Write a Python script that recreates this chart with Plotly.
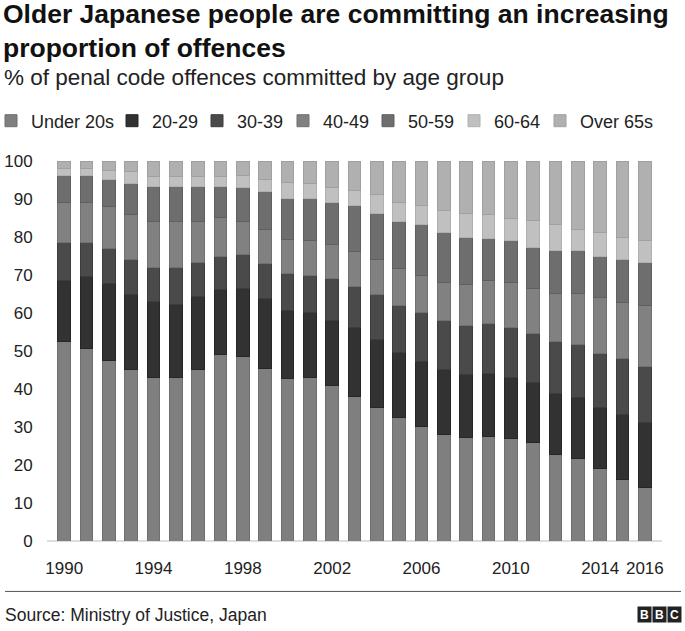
import plotly.graph_objects as go

# Share of penal code offences by age group of offender (%)
years = list(range(1990, 2017))
under_20 = [52.4, 50.6, 47.4, 45.1, 43.1, 43.1, 45.1, 49.2, 48.6, 45.3, 42.7, 43.1, 40.9, 38.1,
            35.1, 32.5, 30.1, 28.1, 27.2, 27.5, 26.9, 25.8, 22.8, 21.7, 19.1, 16.2, 14.1]
age_20_29 = [16.1, 18.9, 20.3, 19.9, 19.8, 19.1, 19.2, 16.9, 17.8, 18.5, 17.9, 17.0, 17.1, 18.1,
             17.9, 17.0, 17.1, 17.0, 16.6, 16.5, 16.2, 15.9, 16.0, 16.1, 16.1, 17.0, 17.0]
age_30_39 = [10.0, 9.0, 9.4, 9.2, 9.2, 9.9, 8.9, 8.9, 8.9, 9.1, 9.7, 9.9, 11.2, 10.9,
             12.0, 12.4, 12.9, 12.9, 12.8, 13.2, 13.2, 12.8, 13.7, 13.8, 14.1, 14.8, 14.9]
age_40_49 = [10.7, 10.7, 10.9, 11.8, 11.9, 11.9, 10.8, 10.1, 8.9, 9.1, 9.1, 9.1, 8.8, 9.1,
             9.2, 9.9, 9.9, 10.1, 11.0, 11.3, 11.8, 12.0, 12.6, 13.5, 14.9, 14.8, 16.1]
age_50_59 = [6.9, 6.9, 7.2, 8.1, 9.2, 9.2, 9.2, 8.1, 8.9, 9.9, 10.8, 11.1, 11.0, 12.0,
             12.0, 12.2, 13.2, 13.1, 12.4, 11.2, 11.1, 10.8, 11.4, 11.4, 10.8, 11.4, 11.1]
age_60_64 = [1.8, 1.8, 2.3, 3.1, 2.7, 2.7, 2.7, 2.7, 3.0, 3.2, 4.2, 3.8, 4.0, 4.0,
             4.9, 5.1, 5.0, 5.9, 6.2, 6.1, 5.8, 7.0, 6.7, 5.6, 6.2, 5.8, 5.9]
over_65 = [2.1, 2.1, 2.5, 2.8, 4.1, 4.1, 4.1, 4.1, 3.9, 4.9, 5.6, 6.0, 7.0, 7.8,
           8.9, 10.9, 11.8, 12.9, 13.8, 14.2, 15.0, 15.7, 16.8, 17.9, 18.8, 20.0, 20.9]

groups = ["Under 20s", "20-29", "30-39", "40-49", "50-59", "60-64", "Over 65s"]
series = [under_20, age_20_29, age_30_39, age_40_49, age_50_59, age_60_64, over_65]
colours = ["#7f7f7f", "#323232", "#4a4a4a", "#818181", "#6e6e6e", "#c0c0c0", "#b0b0b0"]
edges = ["#6f6f6f", "#262626", "#3c3c3c", "#707070", "#5f5f5f", "#b0b0b0", "#a0a0a0"]

x_ticks = [1990, 1994, 1998, 2002, 2006, 2010, 2014, 2016]

FONT = "Liberation Sans, Arial, Helvetica, sans-serif"
W, H = 685, 631

# one small legend per group so the key keeps the original's tight spacing
legend_left_px = [0, 121, 206, 292, 377, 463, 549]

fig = go.Figure()
for i, (name, values, colour, edge) in enumerate(zip(groups, series, colours, edges)):
    fig.add_bar(
        x=years,
        y=values,
        name=name,
        legend="legend" if i == 0 else "legend%d" % (i + 1),
        marker=dict(color=colour, line=dict(color=edge, width=1)),
    )


def cy(py):
    # container y from pixels measured from the top
    return 1 - py / H


def px_y(py):
    # paper y for the plot area that runs 161..541.5 px
    return (541.5 - py) / 380.5


def px_x(px):
    # paper x for the plot area that runs 53..656 px
    return (px - 53) / 603


legends = {}
for i, left in enumerate(legend_left_px):
    key = "legend" if i == 0 else "legend%d" % (i + 1)
    legends[key] = dict(
        orientation="h",
        xref="container",
        yref="container",
        x=left / W,
        xanchor="left",
        y=cy(121),
        yanchor="middle",
        font=dict(size=18, color="#222222"),
        itemwidth=30,
        indentation=-9,
        bgcolor="rgba(0,0,0,0)",
    )

fig.update_layout(
    width=W,
    height=H,
    barmode="stack",
    bargap=0.42,
    plot_bgcolor="white",
    paper_bgcolor="white",
    font=dict(family=FONT, size=16, color="#222222"),
    margin=dict(l=53, r=29, t=161, b=90),
    showlegend=True,
    **legends,
    annotations=[
        dict(
            text="<b>Older Japanese people are committing an increasing<br>proportion of offences</b>",
            x=px_x(1), y=px_y(-3), xref="paper", yref="paper",
            xanchor="left", yanchor="top", align="left", showarrow=False,
            font=dict(size=26.5, color="#111111"),
        ),
        dict(
            text="% of penal code offences committed by age group",
            x=px_x(2), y=px_y(77), xref="paper", yref="paper",
            xanchor="left", yanchor="middle", align="left", showarrow=False,
            font=dict(size=22.5, color="#222222"),
        ),
        dict(
            text="Source: Ministry of Justice, Japan",
            x=px_x(3), y=px_y(616), xref="paper", yref="paper",
            xanchor="left", yanchor="middle", showarrow=False,
            font=dict(size=17.5, color="#222222"),
        ),
    ]
    + [
        dict(
            text="<b>%s</b>" % letter,
            x=px_x(centre), y=px_y(615), xref="paper", yref="paper",
            xanchor="center", yanchor="middle", showarrow=False,
            width=13, height=15, bgcolor="#222222", borderpad=0,
            font=dict(size=12, color="white"),
        )
        for letter, centre in zip("BBC", [644, 659, 674])
    ],
    shapes=[
        dict(
            type="line", xref="paper", yref="paper",
            x0=px_x(5), x1=px_x(681), y0=px_y(592), y1=px_y(592),
            line=dict(color="#555555", width=1),
        ),
        dict(
            type="line", xref="paper", yref="paper",
            x0=px_x(47), x1=px_x(662), y0=0, y1=0,
            line=dict(color="#dddddd", width=2), layer="below",
        ),
    ],
)

fig.update_xaxes(
    tickmode="array",
    tickvals=x_ticks,
    ticktext=[str(y) for y in x_ticks],
    range=[1989.5, 2016.5],
    automargin=False,
    showgrid=False,
    zeroline=False,
    showline=False,
    ticks="outside",
    ticklen=12,
    tickcolor="rgba(0,0,0,0)",
    tickfont=dict(size=17),
)
fig.update_yaxes(
    range=[0, 100],
    tickvals=[0, 10, 20, 30, 40, 50, 60, 70, 80, 90, 100],
    automargin=False,
    showgrid=False,
    zeroline=False,
    showline=False,
    ticks="outside",
    ticklen=16,
    tickcolor="rgba(0,0,0,0)",
    tickfont=dict(size=17),
)

fig.write_html(
    "out.html",
    config={"displayModeBar": False},
    post_script="document.body.style.margin = '0';",
)
